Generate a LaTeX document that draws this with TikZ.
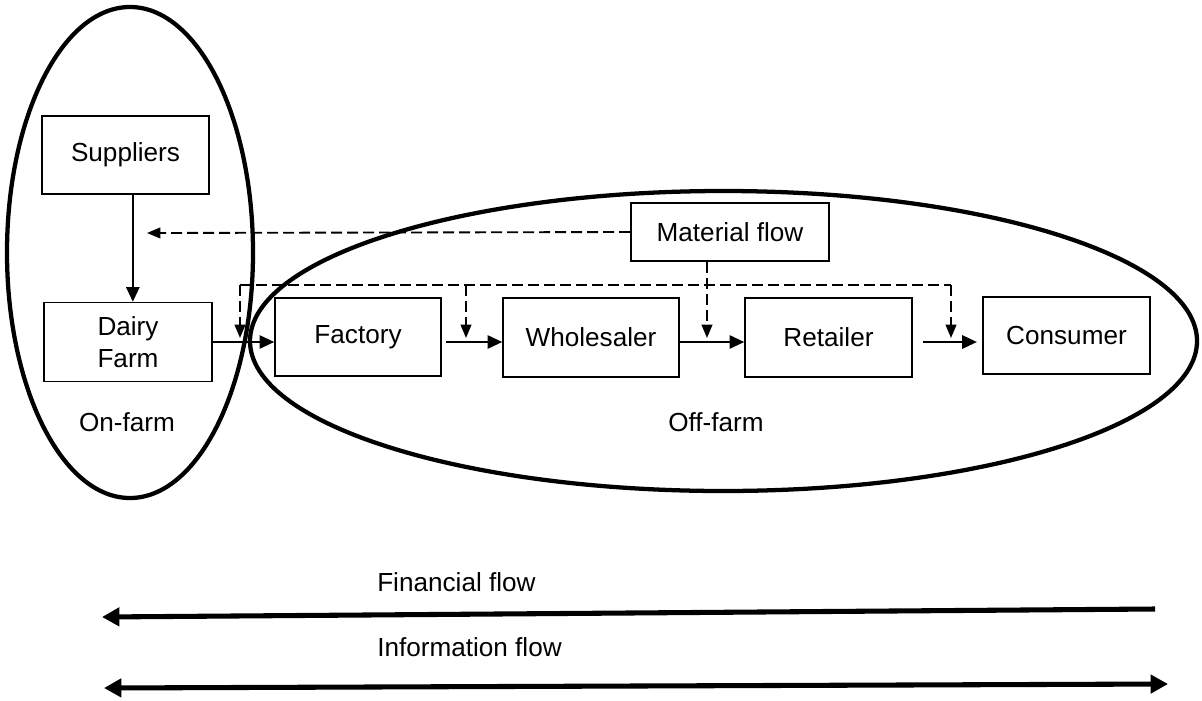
\documentclass[tikz,border=0pt]{standalone}
\usepackage{fontspec}
\setmainfont{Liberation Sans}
\usetikzlibrary{arrows.meta,calc}
\begin{document}
\begin{tikzpicture}[x=0.75pt,y=-0.75pt,
  every node/.style={font=\fontsize{19.6}{23.5}\selectfont, inner sep=0pt},
  blk/.style={draw, line width=1.2pt, align=center},
  zone/.style={line width=3.2pt},
  flow/.style={line width=1.4pt, -{Triangle[length=11pt,width=10pt]}},
  dsh/.style={line width=1.4pt, dash pattern=on 8.25pt off 3.75pt},
  dflow/.style={dsh, -{Triangle[length=10pt,width=8pt]}},
  money/.style={line width=3.8pt, -{Triangle[length=13pt,width=13.5pt]}},
  info/.style={line width=3.8pt, {Triangle[length=13pt,width=13.5pt]}-{Triangle[length=13pt,width=13.5pt]}}
]
\useasboundingbox (0,0) rectangle (1202,700);

% on-farm and off-farm zones
\draw[zone] (130,252.5) ellipse [x radius=123, y radius=245.5];
\draw[zone] (723.5,341) ellipse [x radius=473.5, y radius=150];

% chain members
\node[blk, minimum width=125.25pt, minimum height=58.5pt]  (sup) at (125.5,155) {Suppliers};
\node[blk, minimum width=126pt,    minimum height=59.25pt] (dairy) at (128,342) {Dairy\\Farm};
\node[blk, minimum width=124.5pt,  minimum height=58.5pt]  (fac) at (358,337) {Factory};
\node[blk, minimum width=132pt,    minimum height=59.25pt] (wh) at (591,337.5) {Wholesaler};
\node[blk, minimum width=125.25pt, minimum height=59.25pt] (ret) at (828.5,337.5) {Retailer};
\node[blk, minimum width=125.25pt, minimum height=57.75pt] (con) at (1066.5,335.5) {Consumer};
\node[blk, minimum width=148.5pt,  minimum height=43.5pt]  (mat) at (730,232) {Material flow};

% zone labels
\node (onfarm) at (127,422) {On-farm};
\node (offfarm) at (716,422) {Off-farm};

% material flow along the chain
\draw[flow] ([xshift=5.5pt]sup.south) -- ([xshift=5.5pt]sup.south |- dairy.north);
\draw[flow] (dairy.east) -- (dairy.east -| fac.west);
\draw[flow] ([xshift=3pt]fac.east |- dairy.east) -- (wh.west |- dairy.east);
\draw[flow] (wh.east |- dairy.east) -- (ret.west |- dairy.east);
\draw[flow] ([xshift=7.5pt]ret.east |- dairy.east) -- ([xshift=-4pt]con.west |- dairy.east);

% dashed connectors from the material flow box
\coordinate (mfEnd) at (147,233);
\coordinate (busL) at (240,285);
\coordinate (busM) at (466,285);
\coordinate (busR) at (951,285);
\coordinate (dL) at (240,338);
\coordinate (dM) at (466,338);
\coordinate (dR) at (951,338);
\coordinate (dMat) at (707,338);

\draw[dflow] (mat.west) -- (mfEnd);
\draw[dsh] (busL) -- (busR);
\draw[dflow] (busL) -- (dL);
\draw[dflow] (busM) -- (dM);
\draw[dflow] (busR) -- (dR);
\draw[dflow] (mat.south -| dMat) -- (dMat);

% financial and information flows
\node[anchor=west] (fintxt) at (377,582) {Financial flow};
\node[anchor=west] (inftxt) at (377,647) {Information flow};
\coordinate (finR) at (1155,609);
\coordinate (finL) at (102,617);
\coordinate (infL) at (104,688);
\coordinate (infR) at (1168,684);
\draw[money] (finR) -- (finL);
\draw[info] (infL) -- (infR);
\end{tikzpicture}
\end{document}
